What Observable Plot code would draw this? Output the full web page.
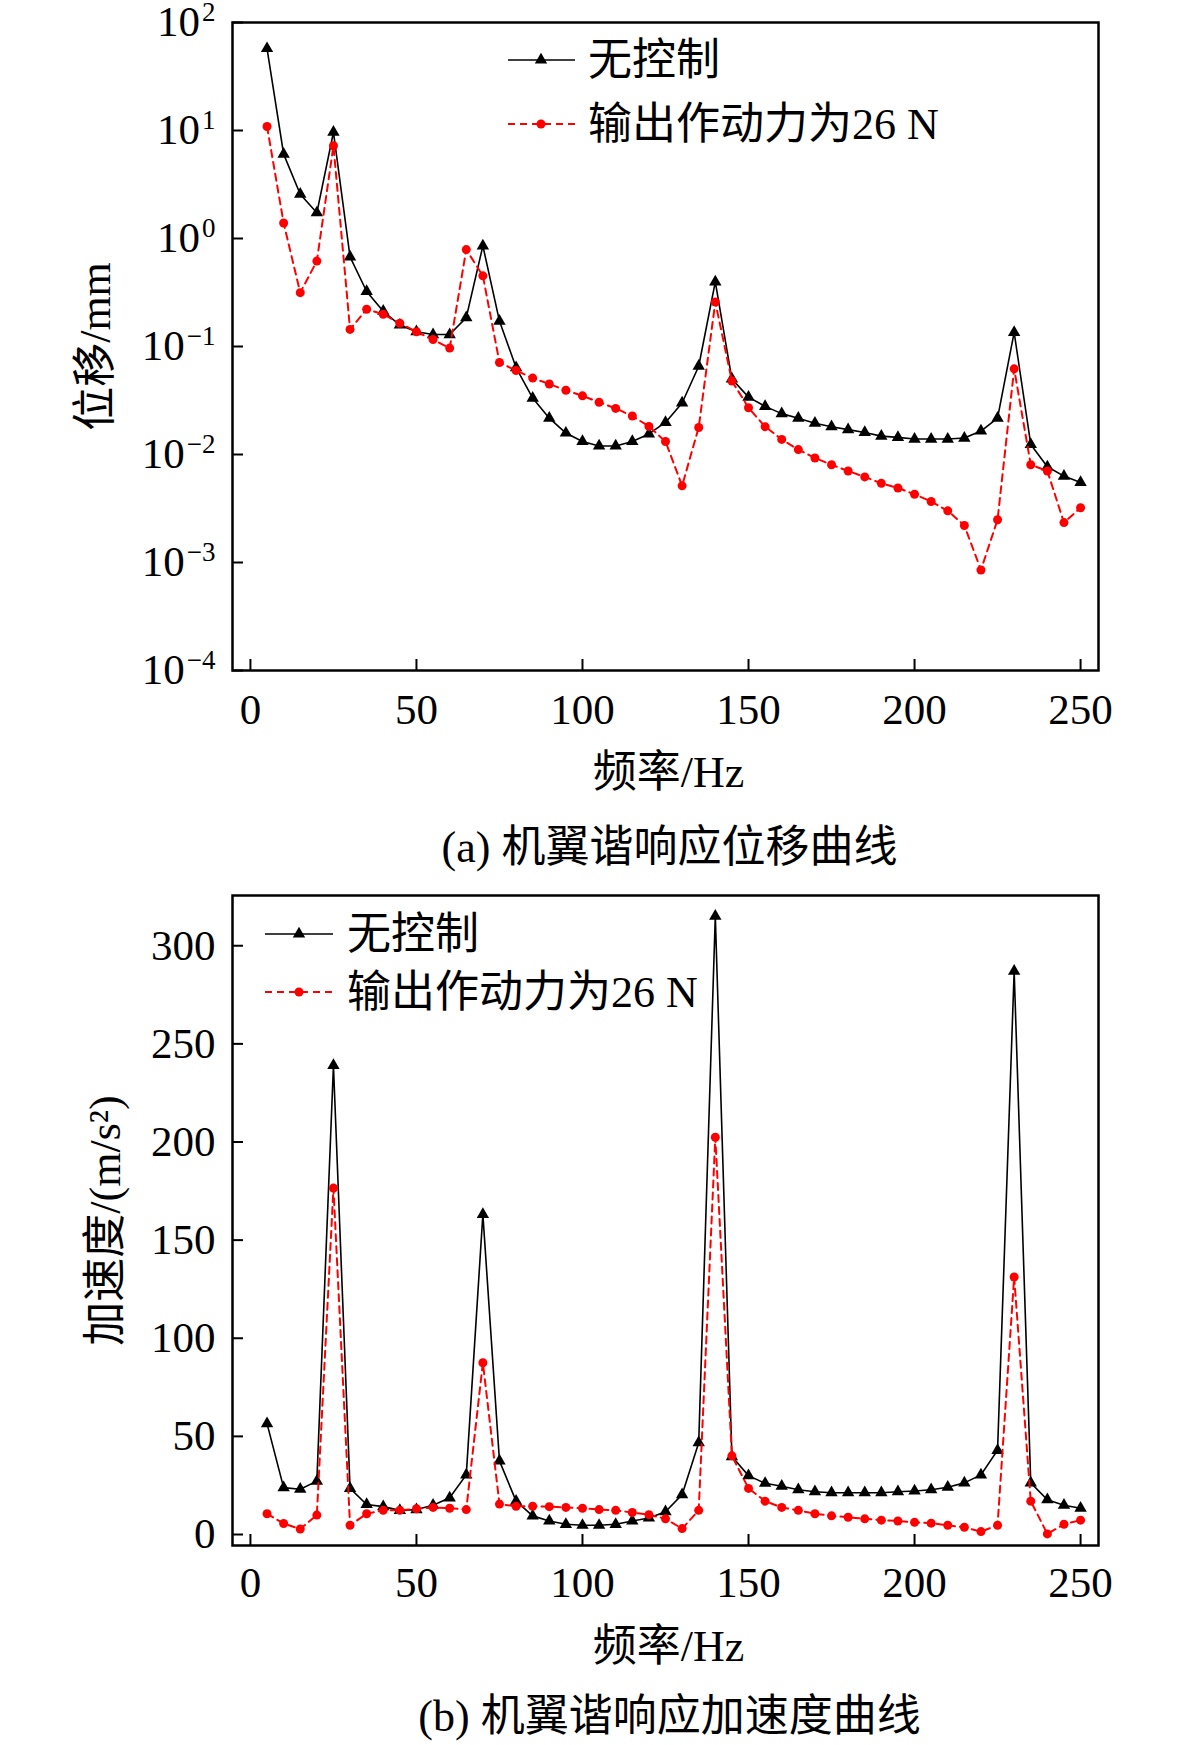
<!DOCTYPE html>
<html><head><meta charset="utf-8">
<script src="https://cdn.jsdelivr.net/npm/d3@7"></script>
<script src="https://cdn.jsdelivr.net/npm/@observablehq/plot@0.6"></script>
<style>
html,body{margin:0;padding:0;background:#fff;}
#wrap{position:relative;width:1181px;height:1745px;background:#fff;}
#wrap svg{position:absolute;left:0;overflow:visible;}
</style></head><body><div id="wrap"></div>
<script>
// ---- data ----
const freq = [5,10,15,20,25,30,35,40,45,50,55,60,65,70,75,80,85,90,95,100,105,110,115,120,125,130,135,140,145,150,155,160,165,170,175,180,185,190,195,200,205,210,215,220,225,230,235,240,245,250];
const seriesNames = ["无控制", "输出作动力为26 N"];

// (a) displacement, mm
const dispNoCtrl = [57.4,6.04,2.57,1.73,9.64,0.676,0.323,0.212,0.158,0.137,0.129,0.129,0.185,0.855,0.172,0.0638,0.0333,0.0217,0.0158,0.0132,0.0120,0.0120,0.0132,0.0155,0.0198,0.030,0.0656,0.397,0.050,0.034,0.0279,0.0239,0.0217,0.0195,0.0181,0.0170,0.0160,0.0148,0.0144,0.0139,0.0139,0.0139,0.0142,0.0165,0.0217,0.135,0.0124,0.00769,0.00631,0.00551];
const dispCtrl = [10.9,1.39,0.315,0.618,7.22,0.144,0.221,0.199,0.164,0.137,0.116,0.0966,0.789,0.451,0.0711,0.060,0.051,0.045,0.0393,0.0349,0.0305,0.0267,0.0227,0.0182,0.0132,0.00513,0.0178,0.258,0.0479,0.0271,0.0181,0.0138,0.0111,0.00929,0.00804,0.00703,0.00620,0.00541,0.00490,0.00428,0.00367,0.00301,0.00220,0.000853,0.00249,0.0621,0.00804,0.00703,0.00234,0.00321];

// (b) acceleration, m/s^2
const accNoCtrl = [56.5,23.9,23.1,27.2,239.0,23.5,15.3,14.2,12.3,12.7,14.9,18.7,30.4,163.1,37.5,17.0,9.5,6.9,5.2,4.7,4.7,5.2,6.9,8.4,11.6,20.3,46.8,315.1,39.7,30.0,26.1,24.6,22.8,21.8,21.3,21.3,21.3,21.3,21.8,22.2,22.8,24.1,26.3,30.4,42.9,287.0,26.3,17.7,14.9,13.4];
const accCtrl = [10.6,5.6,2.8,9.9,176.5,4.7,10.6,12.3,12.3,13.1,13.8,13.4,12.7,87.5,15.5,14.4,14.4,14.2,13.8,13.4,12.7,12.3,11.2,10.1,8.0,3.0,12.3,202.4,40.1,23.5,17.0,13.8,12.3,10.6,9.5,8.8,8.0,7.3,6.9,6.2,5.8,4.7,3.7,1.5,4.7,131.2,17.0,0.3,5.2,7.3];

const xTicks = [0,50,100,150,200,250];
const dispTicks = [1e2,1e1,1e0,1e-1,1e-2,1e-3,1e-4];
const accTicks = [0,50,100,150,200,250,300];

const xLabel = "频率/Hz";
const dispLabel = "位移/mm";
const accLabel = "加速度/(m/s²)";
const capA = "(a) 机翼谐响应位移曲线";
const capB = "(b) 机翼谐响应加速度曲线";

// ---- styling ----
const FONT = '"Liberation Serif","Times New Roman","Noto Sans CJK SC",serif';
const W = 1181, ML = 232, MR = 83;
const RED = "#ff0000";

function rows(vals){ return freq.map((f,i)=>({f, v: vals[i]})); }

function panel(o){
  const innerH = o.height - o.marginTop - o.marginBottom;
  const innerW = W - ML - MR;
  const a = rows(o.s1), b = rows(o.s2);
  const svg = Plot.plot({
    width: W, height: o.height,
    marginLeft: ML, marginRight: MR, marginTop: o.marginTop, marginBottom: o.marginBottom,
    style: {fontFamily: FONT, fontSize: "42px", color: "black", background: "transparent", overflow: "visible"},
    x: {domain: [-5.4, 255.4], axis: null},
    y: {type: o.yType, domain: o.yDomain, axis: null},
    marks: [
      Plot.line(a, {x: "f", y: "v", stroke: "black", strokeWidth: 1.6}),
      Plot.dot(a, {x: "f", y: "v", symbol: "triangle", r: 4.6, fill: "black", stroke: "none"}),
      Plot.line(b, {x: "f", y: "v", stroke: RED, strokeWidth: 2, strokeDasharray: "7,5"}),
      Plot.dot(b, {x: "f", y: "v", symbol: "circle", r: 4.5, fill: RED, stroke: "none"}),
      Plot.frame({stroke: "black", strokeWidth: 2.5}),
      Plot.tickX(xTicks, {x: d => d, insetTop: innerH - 11, stroke: "black", strokeWidth: 2}),
      Plot.tickY(o.yTicks, {y: d => d, insetRight: innerW - 11, stroke: "black", strokeWidth: 2}),
      Plot.text(xTicks, {x: d => d, frameAnchor: "bottom", lineAnchor: "middle", textAnchor: "middle", dy: o.xTickDy, text: d => String(d), fontSize: 43}),
      Plot.text(o.yTicks, {y: d => d, frameAnchor: "left", lineAnchor: "middle", dx: -17, textAnchor: "end", text: o.yTickText, fontSize: 43, className: o.supClass}),
      Plot.text([o.yLabel], {frameAnchor: "left", lineAnchor: "middle", textAnchor: "middle", dx: o.yLabelDx, rotate: -90, text: d => d, fontSize: 44}),
      Plot.text([xLabel], {frameAnchor: "bottom", lineAnchor: "middle", textAnchor: "middle", dy: o.xLabelDy, dx: 3, text: d => d, fontSize: 44}),
      Plot.text([o.caption], {frameAnchor: "bottom", lineAnchor: "middle", textAnchor: "middle", dy: o.capDy, dx: 4, text: d => d, fontSize: 44})
    ]
  });
  svg.style.top = o.top + "px";
  return svg;
}

function addLegend(svg, lg){
  const g = d3.select(svg).append("g").attr("font-family", FONT).attr("font-size", 44)
    .attr("text-anchor", "start").attr("fill", "black");
  const tri = d3.symbol(d3.symbolTriangle, 4.6*4.6*Math.PI)();
  g.append("line").attr("x1", lg.x0).attr("x2", lg.x1).attr("y1", lg.y1).attr("y2", lg.y1)
    .attr("stroke", "black").attr("stroke-width", 1.6);
  g.append("path").attr("d", tri).attr("transform", `translate(${lg.xm},${lg.y1})`).attr("fill", "black");
  g.append("text").attr("x", lg.xt).attr("y", lg.y1).attr("dy", "0.35em").attr("text-anchor", "start").text(seriesNames[0]);
  g.append("line").attr("x1", lg.x0).attr("x2", lg.x1).attr("y1", lg.y2).attr("y2", lg.y2)
    .attr("stroke", RED).attr("stroke-width", 2).attr("stroke-dasharray", "7,5");
  g.append("circle").attr("cx", lg.xm).attr("cy", lg.y2).attr("r", 4.5).attr("fill", RED);
  g.append("text").attr("x", lg.xt).attr("y", lg.y2).attr("dy", "0.35em").attr("text-anchor", "start").text(seriesNames[1]);
}

const wrap = document.getElementById("wrap");

const svgA = panel({
  s1: dispNoCtrl, s2: dispCtrl, yType: "log", yDomain: [1e-4, 1e2], yTicks: dispTicks,
  yTickText: d => "10^" + Math.round(Math.log10(d)),
  supClass: "suplabels",
  yLabel: dispLabel, yLabelDx: -137, caption: capA,
  height: 870, marginTop: 22, marginBottom: 200, top: 0,
  xTickDy: 40, xLabelDy: 102, capDy: 177
});
wrap.appendChild(svgA);
addLegend(svgA, {x0: 508, x1: 575, xm: 541, xt: 588, y1: 60, y2: 124});

// turn "10^n" into 10 with superscript exponent
d3.select(svgA).selectAll("g.suplabels text").each(function(){
  const t = this.textContent.split("^");
  const e = t[1].replace("-", "\u2212");
  this.textContent = "";
  const s = d3.select(this);
  s.append("tspan").text(t[0]);
  s.append("tspan").attr("font-size", 27).attr("dy", "-0.55em").attr("dx", 2).text(e);
});

const svgB = panel({
  s1: accNoCtrl, s2: accCtrl, yType: "linear", yDomain: [-5.6, 325.6], yTicks: accTicks,
  yTickText: d => String(d), supClass: "plainlabels",
  yLabel: accLabel, yLabelDx: -127, caption: capB,
  height: 875, marginTop: 25, marginBottom: 200, top: 870,
  xTickDy: 38, xLabelDy: 101, capDy: 171
});
wrap.appendChild(svgB);
addLegend(svgB, {x0: 265, x1: 333, xm: 299, xt: 347, y1: 64, y2: 122});
</script>
</body></html>
